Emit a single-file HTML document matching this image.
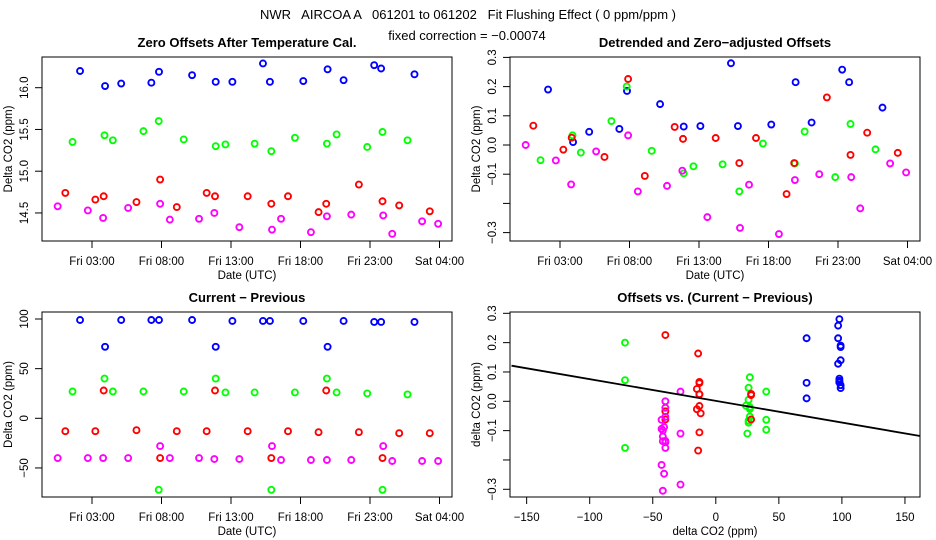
<!DOCTYPE html>
<html><head><meta charset="utf-8">
<style>
html,body{margin:0;padding:0;background:#fff;}
svg{display:block;font-family:"Liberation Sans",sans-serif;}
</style></head>
<body>
<svg id="chart" width="936" height="540" xmlns="http://www.w3.org/2000/svg">
<text x="468" y="19" text-anchor="middle" font-size="13" style="white-space:pre">NWR   AIRCOA A   061201 to 061202   Fit Flushing Effect ( 0 ppm/ppm )</text>
<text x="467" y="40" text-anchor="middle" font-size="13">fixed correction = −0.00074</text>
</svg>
<script>
// times (hours from Fri 00:00) per series
const tBlue=[2.14,3.94,5.1,7.27,7.82,10.2,11.9,13.1,15.3,15.8,18.2,19.95,21.1,23.3,23.8,26.2];
const tGreen=[1.6,3.9,4.5,6.7,7.8,9.6,11.9,12.6,14.7,15.9,17.6,19.9,20.6,22.8,23.9,25.7];
const tRed=[1.08,3.24,3.84,6.2,7.9,9.1,11.25,11.85,14.2,15.9,17.1,19.3,19.85,22.2,23.9,25.1,27.3];
const tMag=[0.53,2.7,3.8,5.6,7.9,8.6,10.7,11.8,13.6,15.95,16.6,18.75,19.9,21.65,23.95,24.6,26.75,27.9];
// zero offsets after temperature cal
const zBlue=[16.2,16.02,16.05,16.06,16.19,16.15,16.07,16.07,16.29,16.07,16.08,16.22,16.09,16.27,16.23,16.16];
const zGreen=[15.35,15.43,15.37,15.48,15.60,15.38,15.30,15.32,15.33,15.24,15.40,15.33,15.44,15.29,15.47,15.37];
const zRed=[14.74,14.66,14.70,14.63,14.90,14.57,14.74,14.70,14.70,14.61,14.70,14.51,14.61,14.84,14.64,14.59,14.52];
const zMag=[14.58,14.53,14.44,14.56,14.61,14.42,14.43,14.50,14.33,14.30,14.43,14.27,14.46,14.48,14.47,14.25,14.40,14.37];
// detrended offsets
const dBlue=[0.19,0.01,0.045,0.055,0.185,0.14,0.063,0.065,0.28,0.065,0.07,0.215,0.077,0.258,0.215,0.128];
const dGreen=[-0.052,0.033,-0.026,0.082,0.2,-0.02,-0.097,-0.073,-0.066,-0.159,0.005,-0.063,0.046,-0.11,0.072,-0.015];
const dRed=[0.066,-0.016,0.025,-0.041,0.226,-0.106,0.062,0.021,0.024,-0.062,0.024,-0.168,-0.062,0.163,-0.034,0.042,-0.027];
const dMag=[0,-0.053,-0.135,-0.022,0.033,-0.159,-0.14,-0.088,-0.247,-0.284,-0.136,-0.305,-0.12,-0.1,-0.11,-0.217,-0.063,-0.094];
// current - previous
const cBlue=[99,72,99,99,99,99,72,98,98,98,98,72,98,97,97,97];
const cGreen=[27,40,27,27,-72,27,40,26,26,-72,26,40,26,25,-72,24];
const cRed=[-13,-13,28,-12,-40,-13,-13,28,-13,-40,-13,-14,28,-14,-40,-15,-15];
const cMag=[-40,-40,-40,-40,-28,-40,-40,-41,-41,-28,-42,-42,-42,-42,-28,-43,-43,-43];
const timeTicks=[3,8,13,18,23,28];
const timeLabels=["Fri 03:00","Fri 08:00","Fri 13:00","Fri 18:00","Fri 23:00","Sat 04:00"];
const fitSlope=-0.00074, fitIntercept=0.0015;

const NS="http://www.w3.org/2000/svg";
const svg=document.getElementById('chart');
function el(tag,attrs,parent){const e=document.createElementNS(NS,tag);for(const k in attrs)e.setAttribute(k,attrs[k]);(parent||svg).appendChild(e);return e;}
const COL={blue:'#0000ff',green:'#00ff00',red:'#ff0000',mag:'#ff00ff'};

function panel(name,box,title,xscale,yscale,yTicks,yLabels,yTitle,xTicks,xLabels,xTitle){
  const g=el('g',{});
  
  
  const r=el('rect',{x:box.x0,y:box.y0,width:box.x1-box.x0,height:box.y1-box.y0,fill:'none',stroke:'#000','stroke-width':1},g);
  
  
  const t=el('text',{x:(box.x0+box.x1)/2,y:box.y0-10,'text-anchor':'middle','font-size':13,'font-weight':'bold'},g);
  t.textContent=title;
  
  
  const xa=el('g',{},g);
  
  
  const xp=xTicks.map(xscale);
  el('line',{x1:xp[0],x2:xp[xp.length-1],y1:box.y1,y2:box.y1,stroke:'#000'},xa);
  xTicks.forEach((v,i)=>{
    const x=xscale(v);
    el('line',{x1:x,x2:x,y1:box.y1,y2:box.y1+7,stroke:'#000'},xa);
    const tx=el('text',{x:x,y:box.y1+24,'text-anchor':'middle','font-size':11.5},xa);
    tx.textContent=xLabels[i];
    
    
  });
  const xt=el('text',{x:(box.x0+box.x1)/2,y:box.y1+38,'text-anchor':'middle','font-size':11.5},g);
  xt.textContent=xTitle;
  
  
  const ya=el('g',{},g);
  
  
  const yp=yTicks.map(yscale);
  el('line',{x1:box.x0,x2:box.x0,y1:yp[0],y2:yp[yp.length-1],stroke:'#000'},ya);
  yTicks.forEach((v,i)=>{
    const y=yscale(v);
    el('line',{x1:box.x0-7,x2:box.x0,y1:y,y2:y,stroke:'#000'},ya);
    if(yLabels[i]!==''){
      const ty=el('text',{x:0,y:0,'text-anchor':'middle','font-size':11.5,transform:`translate(${box.x0-14},${y}) rotate(-90)`},ya);
      ty.textContent=yLabels[i];
      
      
    }
  });
  const yt=el('text',{x:0,y:0,'text-anchor':'middle','font-size':11.5,transform:`translate(${box.x0-30},${(box.y0+box.y1)/2}) rotate(-90)`},g);
  yt.textContent=yTitle;
  
  
  return g;
}
function points(g,xs,ys,xscale,yscale,color,name){
  xs.forEach((xv,i)=>{
    if(ys[i]===undefined)return;
    const c=el('circle',{cx:xscale(xv),cy:yscale(ys[i]),r:3,fill:'none',stroke:color,'stroke-width':1.9},g);
    
    
  });
}
const timeX=x0=>h=>x0+50+(h-3)*13.9;

{
  const box={x0:42,x1:452,y0:57,y1:241};
  const xs=timeX(42); const ys=v=>87.7+(16-v)*83.5;
  const g=panel('zero-offsets-panel',box,'Zero Offsets After Temperature Cal.',xs,ys,[14.5,15,15.5,16],['14.5','15.0','15.5','16.0'],'Delta CO2 (ppm)',timeTicks,timeLabels,'Date (UTC)');
  points(g,tBlue,zBlue,xs,ys,COL.blue,'point-blue');
  points(g,tGreen,zGreen,xs,ys,COL.green,'point-green');
  points(g,tRed,zRed,xs,ys,COL.red,'point-red');
  points(g,tMag,zMag,xs,ys,COL.mag,'point-magenta');
}
{
  const box={x0:510,x1:920,y0:57,y1:241};
  const xs=timeX(510); const ys=v=>145-v*292;
  const g=panel('detrended-offsets-panel',box,'Detrended and Zero\u2212adjusted Offsets',xs,ys,[-0.3,-0.2,-0.1,0,0.1,0.2,0.3],['\u22120.3','','\u22120.1','0.0','0.1','0.2','0.3'],'Delta CO2 (ppm)',timeTicks,timeLabels,'Date (UTC)');
  points(g,tBlue,dBlue,xs,ys,COL.blue,'point-blue');
  points(g,tGreen,dGreen,xs,ys,COL.green,'point-green');
  points(g,tRed,dRed,xs,ys,COL.red,'point-red');
  points(g,tMag,dMag,xs,ys,COL.mag,'point-magenta');
}
{
  const box={x0:42,x1:452,y0:312,y1:497};
  const xs=timeX(42); const ys=v=>418.3-v*0.993;
  const g=panel('current-minus-previous-panel',box,'Current \u2212 Previous',xs,ys,[-50,0,50,100],['\u221250','0','50','100'],'Delta CO2 (ppm)',timeTicks,timeLabels,'Date (UTC)');
  points(g,tBlue,cBlue,xs,ys,COL.blue,'point-blue');
  points(g,tGreen,cGreen,xs,ys,COL.green,'point-green');
  points(g,tRed,cRed,xs,ys,COL.red,'point-red');
  points(g,tMag,cMag,xs,ys,COL.mag,'point-magenta');
}
{
  const box={x0:510,x1:920,y0:312,y1:497};
  const xs=v=>715.8+v*1.261; const ys=v=>401.3-v*293.3;
  const g=panel('offsets-vs-difference-panel',box,'Offsets vs. (Current \u2212 Previous)',xs,ys,[-0.3,-0.2,-0.1,0,0.1,0.2,0.3],['\u22120.3','','\u22120.1','0.0','0.1','0.2','0.3'],'delta CO2 (ppm)',[-150,-100,-50,0,50,100,150],['\u2212150','\u2212100','\u221250','0','50','100','150'],'delta CO2 (ppm)');
  points(g,cBlue,dBlue,xs,ys,COL.blue,'point-blue');
  points(g,cGreen,dGreen,xs,ys,COL.green,'point-green');
  points(g,cRed,dRed,xs,ys,COL.red,'point-red');
  points(g,cMag,dMag,xs,ys,COL.mag,'point-magenta');
  const xa=-162,xb=162;
  const ln=el('line',{x1:xs(xa),x2:xs(xb),y1:ys(fitIntercept+fitSlope*xa),y2:ys(fitIntercept+fitSlope*xb),stroke:'#000','stroke-width':1.8},g);
  
  
}
</script>
</body></html>
